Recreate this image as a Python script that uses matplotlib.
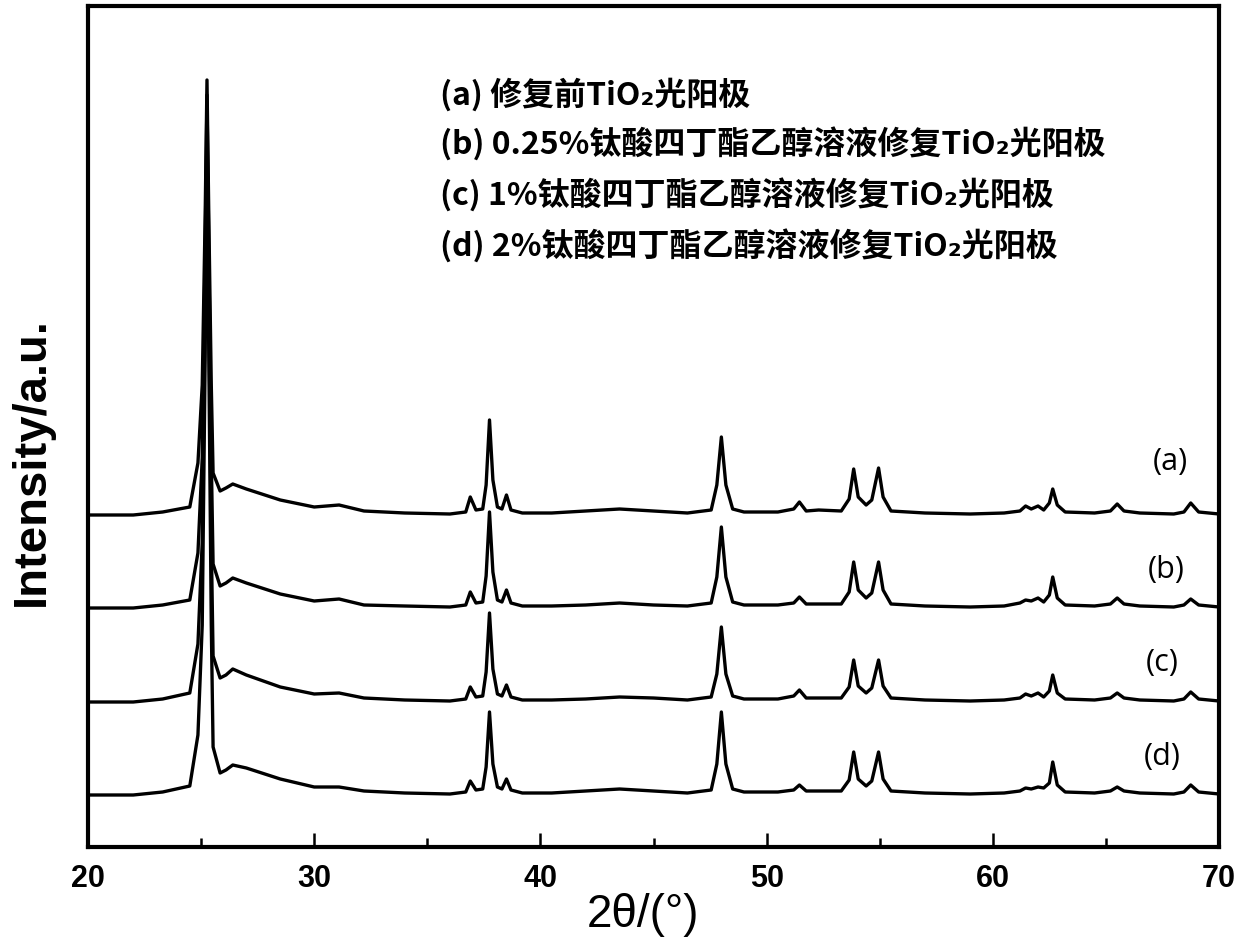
import matplotlib
matplotlib.use("Agg")
import matplotlib.pyplot as plt
import numpy as np

# ---------------- data ----------------
two_theta = [20, 22, 23.3, 24.5, 24.86, 25.05, 25.18, 25.26, 25.34, 25.45, 25.53,
             25.84, 26.1, 26.4, 27.0, 28.5, 30.0, 31.1, 32.2, 34.0, 36.0, 36.7,
             36.9, 37.15, 37.45, 37.6, 37.75, 37.9, 38.1, 38.3, 38.5, 38.7, 39.2,
             40.5, 42.0, 43.5, 45.0, 46.5, 47.55, 47.8, 48.0, 48.2, 48.5, 49.0,
             50.5, 51.2, 51.45, 51.75, 52.3, 53.3, 53.65, 53.85, 54.05, 54.4,
             54.65, 54.95, 55.15, 55.5, 57.0, 59.0, 60.5, 61.2, 61.45, 61.7,
             62.0, 62.25, 62.5, 62.65, 62.85, 63.2, 64.5, 65.2, 65.5, 65.8, 66.5,
             68.0, 68.45, 68.75, 69.1, 70.0]

int_a = [0, 0, 3, 8, 52, 130, 300, 435, 300, 130, 42,
         24, 27, 31, 26, 15, 8, 10, 4, 2, 1, 3,
         18, 5, 6, 30, 95, 35, 8, 6, 20, 5, 2,
         2, 4, 6, 4, 2, 5, 30, 78, 30, 6, 3,
         3, 6, 13, 4, 5, 4, 16, 46, 18, 10,
         15, 47, 18, 4, 2, 1, 2, 4, 9, 6,
         9, 5, 12, 26, 10, 3, 2, 4, 11, 4, 2,
         1, 3, 12, 3, 1]

int_b = [0, 0, 3, 8, 55, 150, 360, 513, 360, 150, 44,
         22, 25, 30, 25, 14, 7, 9, 3, 2, 1, 3,
         16, 5, 6, 32, 96, 36, 8, 6, 18, 5, 2,
         2, 3, 5, 3, 2, 5, 31, 81, 31, 6, 3,
         3, 5, 11, 4, 4, 4, 16, 46, 18, 10,
         15, 46, 18, 4, 2, 1, 2, 5, 8, 7,
         10, 6, 13, 31, 10, 3, 2, 4, 10, 4, 2,
         1, 3, 9, 3, 1]

int_c = [0, 0, 3, 9, 58, 160, 400, 587, 400, 160, 46,
         24, 27, 33, 27, 15, 8, 9, 4, 2, 1, 3,
         15, 5, 6, 30, 89, 33, 8, 6, 17, 5, 2,
         2, 3, 5, 4, 2, 5, 28, 75, 28, 6, 3,
         3, 6, 12, 4, 4, 4, 15, 42, 16, 9,
         14, 42, 16, 4, 2, 1, 2, 4, 8, 6,
         9, 5, 11, 27, 9, 3, 2, 4, 9, 4, 2,
         1, 3, 10, 3, 1]

int_d = [0, 0, 3, 9, 60, 170, 440, 665, 440, 170, 48,
         22, 25, 30, 27, 16, 8, 8, 4, 2, 1, 3,
         14, 5, 6, 28, 83, 31, 8, 6, 16, 5, 2,
         2, 4, 6, 4, 2, 5, 31, 83, 31, 6, 3,
         3, 5, 10, 4, 4, 4, 15, 43, 16, 9,
         14, 43, 16, 4, 2, 1, 2, 4, 7, 6,
         8, 7, 12, 33, 10, 3, 2, 4, 8, 4, 2,
         1, 3, 10, 3, 1]

series = [int_a, int_b, int_c, int_d]
offsets = [332, 239, 145, 52]
curve_tags = ["(a)", "(b)", "(c)", "(d)"]
legend_lines = ["(a) 修复前TiO₂光阳极",
                "(b) 0.25%钛酸四丁酯乙醇溶液修复TiO₂光阳极",
                "(c) 1%钛酸四丁酯乙醇溶液修复TiO₂光阳极",
                "(d) 2%钛酸四丁酯乙醇溶液修复TiO₂光阳极"]
x_ticks = [20, 30, 40, 50, 60, 70]

# ---------------- figure ----------------
W, H = 1240, 952
fig = plt.figure(figsize=(W / 100, H / 100), dpi=100)
ax = fig.add_axes([88 / W, 1 - 847 / H, (1219 - 88) / W, (847 - 6) / H])

for vals, off in zip(series, offsets):
    ax.plot(two_theta, np.array(vals) + off, color="black", lw=2.4,
            solid_joinstyle="round")

ax.set_xlim(20, 70)
ax.set_ylim(0, 841)
ax.set_xticks(x_ticks)
ax.set_xticks(np.arange(25, 70, 10), minor=True)
ax.set_yticks([])
ax.tick_params(axis="x", which="major", direction="in", length=10, width=1.8,
               pad=12, labelsize=22)
ax.tick_params(axis="x", which="minor", direction="in", length=6.5, width=1.8)
for lab in ax.get_xticklabels():
    lab.set_fontfamily("Liberation Sans")
    lab.set_fontweight("bold")
for sp in ax.spines.values():
    sp.set_linewidth(3)

fig.text(643 / W, 1 - 915 / H, "2θ/(°)", ha="center", va="center",
         fontsize=33, family=["Liberation Sans", "DejaVu Sans"])
fig.text(32 / W, 1 - 462 / H, "Intensity/a.u.", rotation=90, ha="center",
         va="center", fontsize=34, fontweight="bold", family="Liberation Sans")

legend_y = [95, 145, 196, 247]
for txt, yy in zip(legend_lines, legend_y):
    fig.text(440 / W, 1 - yy / H, txt, ha="left", va="center", fontsize=23,
             fontweight="bold", family=["Noto Sans CJK SC", "DejaVu Sans"])

tag_pos = [(1170, 462), (1166, 570), (1162, 663), (1162, 757)]
for tag, (px, py) in zip(curve_tags, tag_pos):
    fig.text(px / W, 1 - py / H, tag, ha="center", va="center", fontsize=22,
             family="Open Sans")

fig.savefig("out.png", dpi=100)
